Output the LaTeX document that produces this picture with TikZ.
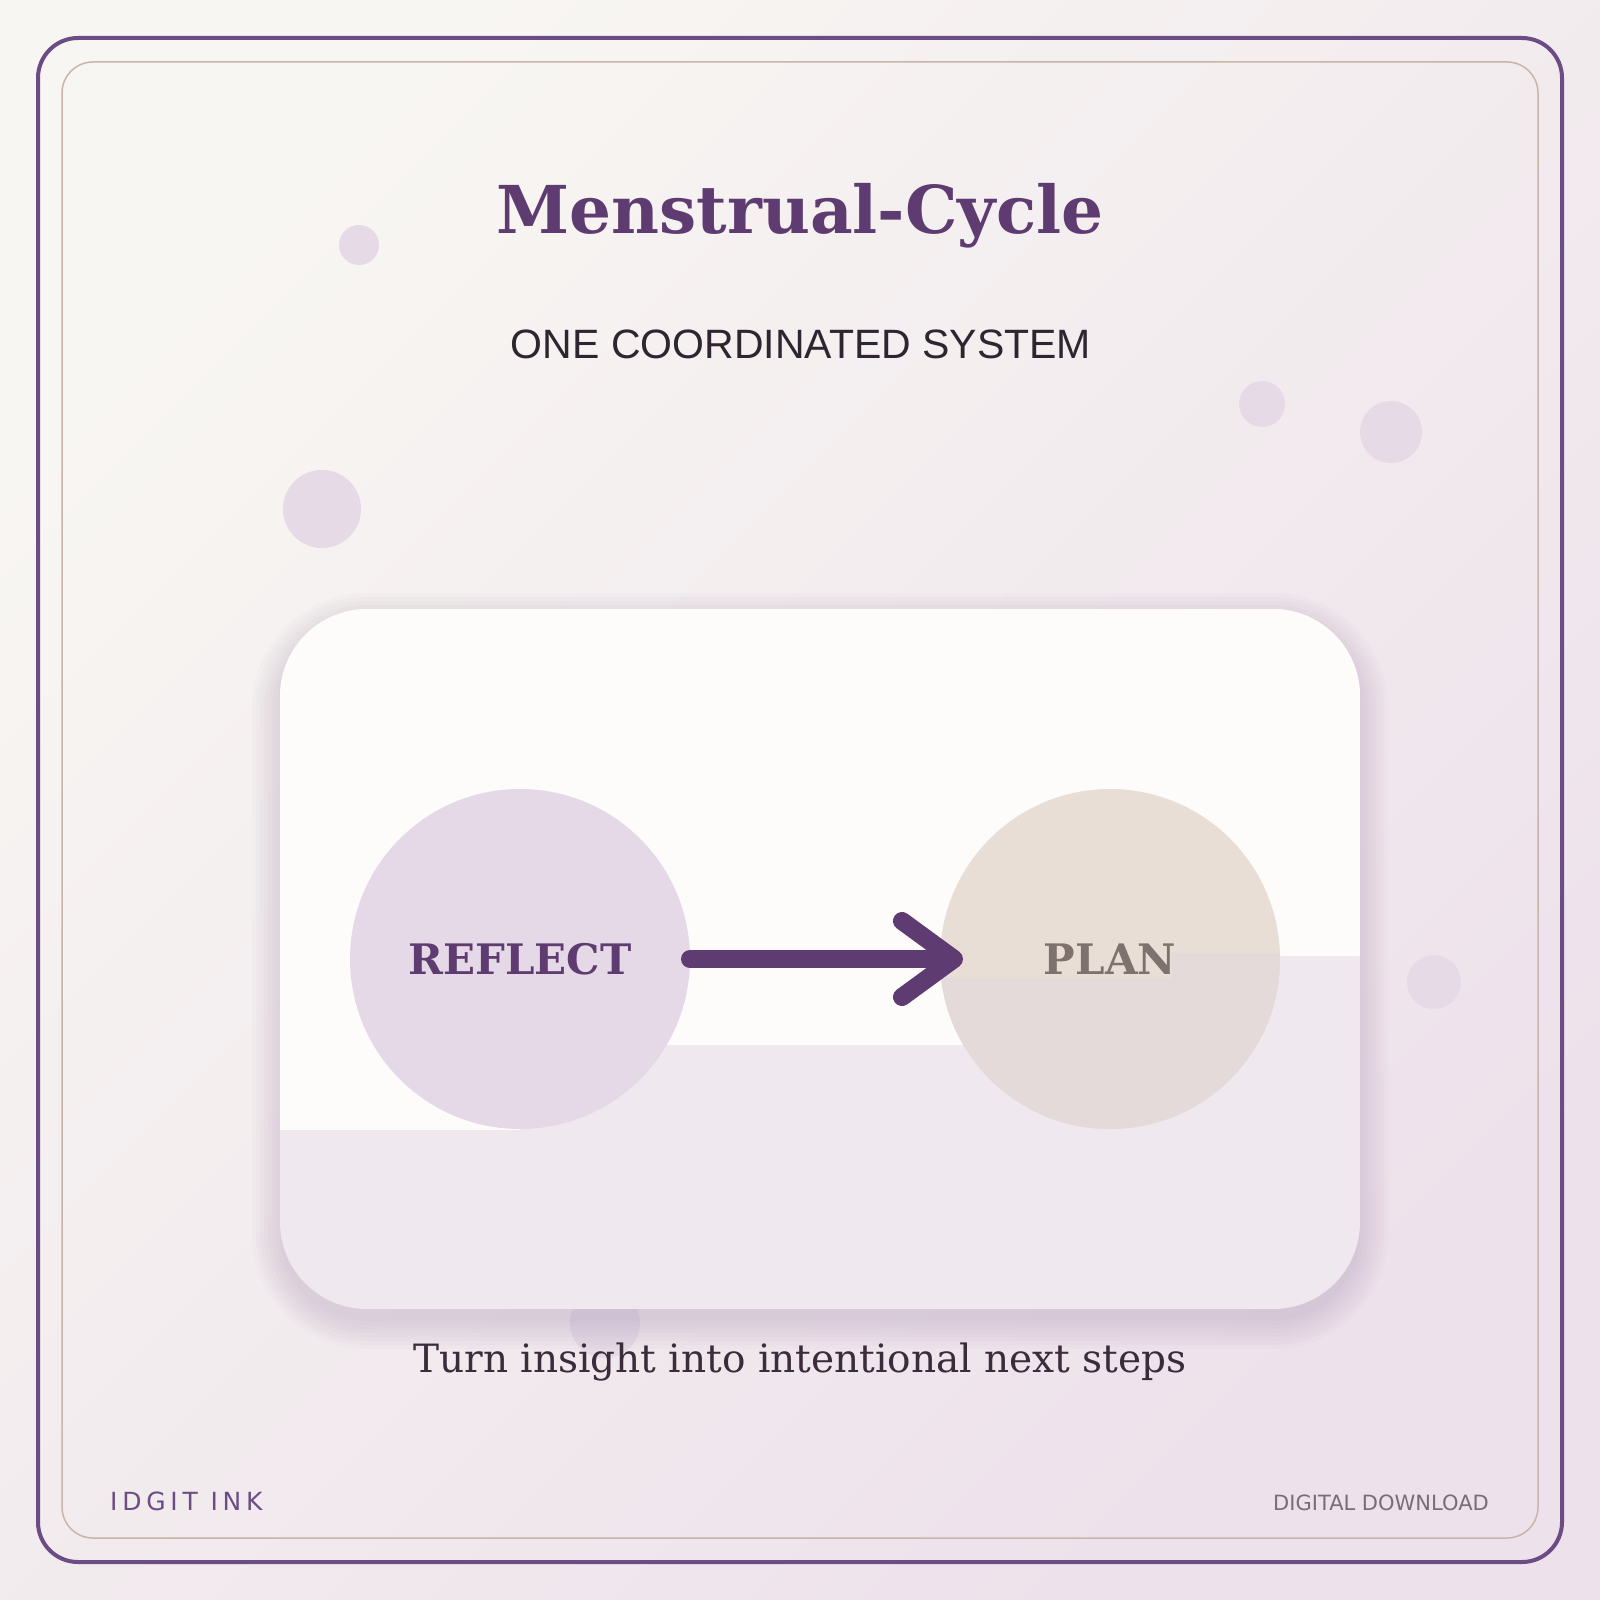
\documentclass[tikz,border=0pt]{standalone}
\usepackage{fontspec}
\setmainfont{DejaVu Serif}
\newfontfamily\subfont{Liberation Sans}
\newfontfamily\brandfont[LetterSpace=19]{DejaVu Sans}
\newfontfamily\tagfont{DejaVu Sans}
\usepackage{tikz}
\usetikzlibrary{arrows.meta}
\definecolor{bgA}{HTML}{F8F6F2}
\definecolor{bgB}{HTML}{EDE1EB}
\definecolor{plum}{HTML}{5E3B70}
\definecolor{frame}{HTML}{6B4C85}
\definecolor{tan}{HTML}{C8B4A8}
\definecolor{blobc}{HTML}{E5DAE6}
\definecolor{cardtop}{HTML}{FDFCFB}
\definecolor{cardlow}{HTML}{EFE8EE}
\definecolor{shadowc}{HTML}{9B82AA}
\definecolor{lilac}{HTML}{E5D9E7}
\definecolor{sand}{HTML}{E8DED6}
\definecolor{sandlow}{HTML}{E4DADA}
\definecolor{stone}{HTML}{7E716E}
\definecolor{ink}{HTML}{2E2530}
\definecolor{capc}{HTML}{3B2C3C}
\definecolor{tagc}{HTML}{7A6C78}
\tikzset{>={Straight Barb[round, length=52pt, width=76pt]}}
\tikzset{
  blob/.style={fill=blobc},
  haze/.style={fill=shadowc, opacity=0.035},
  phase/.style={circle, minimum size=340pt, inner sep=0pt, outer sep=0pt,
    font=\bfseries\fontsize{42}{50}\selectfont},
}

\begin{document}
\begin{tikzpicture}[x=1pt, y=-1pt]
    \useasboundingbox (0,0) rectangle (1600,1600);
    \shade[top color=bgA, bottom color=bgB, shading angle=45] (0,0) rectangle (1600,1600);

    % frames
    \draw[frame, line width=4pt, rounded corners=40pt] (38,38) rectangle (1562,1562);
    \draw[tan, line width=1.5pt, rounded corners=31pt] (62,62) rectangle (1538,1538);

    % soft dots
    \fill[blob] (359,245) circle (20pt);
    \fill[blob] (322,509) circle (39pt);
    \fill[blob] (1262,404) circle (23pt);
    \fill[blob] (1391,432) circle (31pt);
    \fill[blob] (1434,982) circle (27pt);
    \fill[blob] (605,1323) circle (35pt);

    \node[plum, anchor=base, font=\bfseries\fontsize{66}{78}\selectfont] (title) at (800,233) {Menstrual-Cycle};
    \node[ink, anchor=base, font=\subfont\fontsize{41}{48}\selectfont] (subtitle) at (801,358) {ONE COORDINATED SYSTEM};

    % card shadow
    \fill[haze, rounded corners=115pt] (252,593) rectangle (1388,1349);
    \fill[haze, rounded corners=111pt] (256,597) rectangle (1384,1345);
    \fill[haze, rounded corners=107pt] (260,601) rectangle (1380,1341);
    \fill[haze, rounded corners=103pt] (264,605) rectangle (1376,1337);
    \fill[haze, rounded corners=99pt] (268,609) rectangle (1372,1333);
    \fill[haze, rounded corners=95pt] (272,613) rectangle (1368,1329);
    \fill[haze, rounded corners=91pt] (276,617) rectangle (1364,1325);
    \fill[haze, rounded corners=87pt] (280,621) rectangle (1360,1321);

    % card
    \begin{scope}
        \clip[rounded corners=87pt] (280,609) rectangle (1360,1309);
        \fill[cardlow] (280,609) rectangle (1360,1309);
        \fill[cardtop] (280,609) rectangle (520,1130);
        \fill[cardtop] (520,609) rectangle (1110,1045);
        \fill[cardtop] (1110,609) rectangle (1360,956);
    \end{scope}

    \node[phase, fill=lilac, text=plum] (reflect) at (520,959) {REFLECT};
    \node[phase, fill=sand, text=stone, path picture={
        \fill[sandlow] ([yshift=-19pt]path picture bounding box.west) rectangle (path picture bounding box.south east);
        \fill[sandlow] ([xshift=62pt,yshift=6pt]path picture bounding box.center) rectangle (path picture bounding box.south east);
    }] (plan) at (1110,959) {PLAN};

    \draw[plum, line width=18pt, line cap=round, line join=round, ->, shorten >=-23pt] (reflect.east) -- (plan.west);

    \node[capc, anchor=base, font=\fontsize{39}{46}\selectfont] (caption) at (800,1372) {Turn insight into intentional next steps};

    \node[frame, anchor=base west, inner sep=0pt, font=\brandfont\fontsize{25}{30}\selectfont] (brand) at (110,1510) {IDGIT INK};
    \node[tagc, anchor=base east, inner sep=0pt, font=\tagfont\fontsize{21}{25}\selectfont] (tag) at (1489,1510) {DIGITAL DOWNLOAD};
\end{tikzpicture}
\end{document}
